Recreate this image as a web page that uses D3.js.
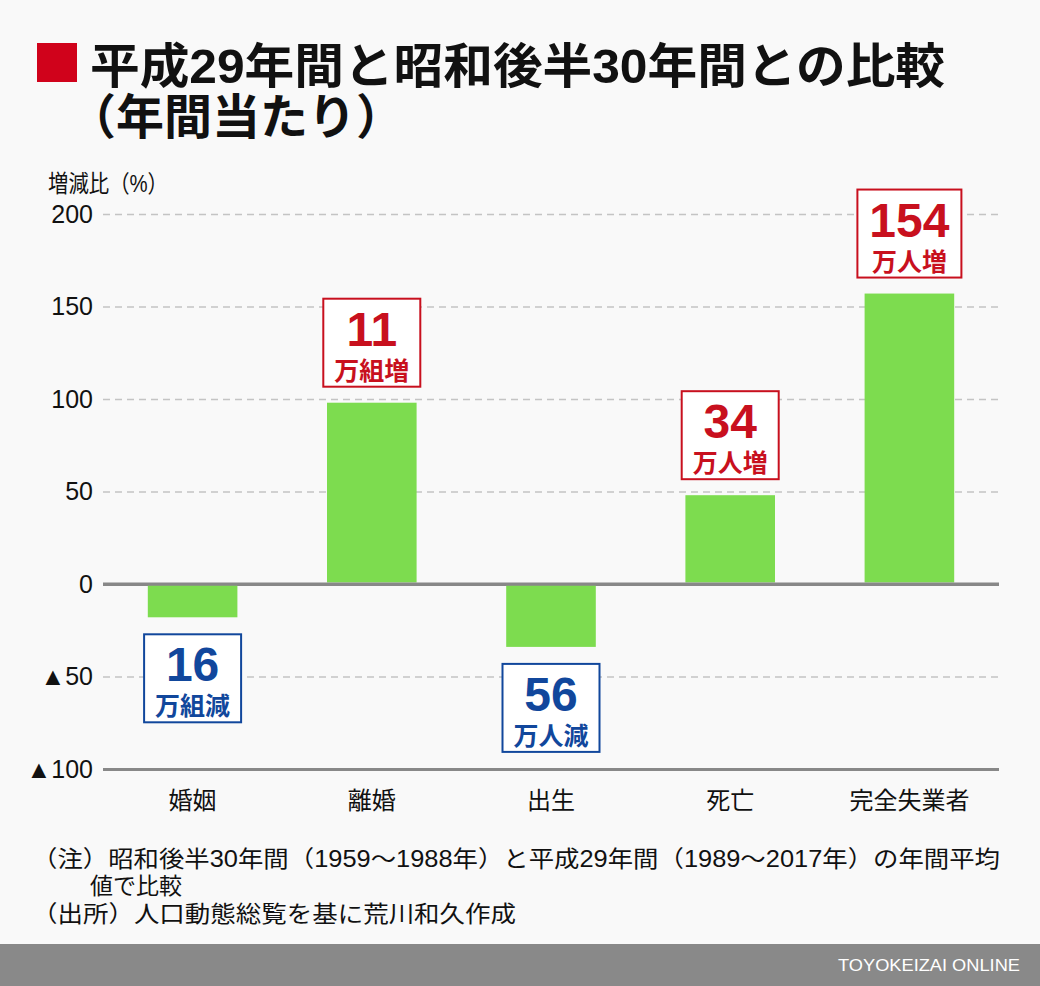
<!DOCTYPE html>
<html><head><meta charset="utf-8">
<script src="https://cdn.jsdelivr.net/npm/d3@7"></script>
<style>
html,body{margin:0;padding:0;background:#f9f9f9;}
svg{display:block;}
text{font-family:"Liberation Sans","Noto Sans CJK JP",sans-serif;}
</style></head>
<body>
<script>
const categories = ["婚姻","離婚","出生","死亡","完全失業者"];
const values = [-18, 98, -34, 48, 157];
const boxNumbers = ["16","11","56","34","154"];
const boxUnits = ["万組減","万組増","万人減","万人増","万人増"];
const tickValues = [-100,-50,0,50,100,150,200];
const tickLabels = ["▲100","▲50","0","50","100","150","200"];

const W=1040,H=986;
const svg=d3.select("body").append("svg").attr("width",W).attr("height",H);
svg.append("rect").attr("width",W).attr("height",H).attr("fill","#f9f9f9");

// title
svg.append("rect").attr("x",37).attr("y",43).attr("width",40).attr("height",39).attr("fill","#d0021b");
svg.append("text").attr("x",90).attr("y",83).attr("font-size",48).attr("font-weight","bold")
  .attr("fill","#111").attr("textLength",855).attr("lengthAdjust","spacingAndGlyphs")
  .text("平成29年間と昭和後半30年間との比較");
svg.append("text").attr("x",68).attr("y",134).attr("font-size",48).attr("font-weight","bold")
  .attr("fill","#111").text("（年間当たり）");

const x=d3.scaleBand().domain(categories).range([103,999]).paddingInner(0.5).paddingOuter(0.25);
const y=d3.scaleLinear().domain([-100,200]).range([769,214]);

svg.append("text").attr("x",48).attr("y",192).attr("font-size",24).attr("fill","#111")
  .attr("textLength",120).attr("lengthAdjust","spacingAndGlyphs").text("増減比（%）");

// grid
const yAxis=d3.axisLeft(y).tickValues(tickValues).tickSize(-896).tickFormat(d=>tickLabels[tickValues.indexOf(d)]);
const g=svg.append("g").attr("transform","translate(103,0)").call(yAxis);
g.select(".domain").remove();
g.selectAll(".tick line")
  .attr("stroke",d=>(d===0||d===-100)?"#888":"#c4c4c4")
  .attr("stroke-width",d=>(d===0||d===-100)?3:1.5)
  .attr("stroke-dasharray",d=>(d===0||d===-100)?null:"7,5");
g.selectAll(".tick text").attr("x",-10).attr("font-size",25).attr("fill","#111")
  .attr("font-family","\"Liberation Sans\",\"Noto Sans CJK JP\",sans-serif");

// bars
svg.append("g").selectAll("rect").data(values).join("rect")
  .attr("x",(d,i)=>x(categories[i])).attr("width",x.bandwidth())
  .attr("y",d=>d>=0?y(d):y(0)+1.5).attr("height",d=>d>=0?y(0)-1.5-y(d):y(d)-y(0)-1.5)
  .attr("fill","#7ddc4f");

svg.append("line").attr("x1",103).attr("x2",999).attr("y1",y(0)).attr("y2",y(0)).attr("stroke","#888").attr("stroke-width",3);

// category labels
svg.append("g").selectAll("text").data(categories).join("text")
  .attr("x",d=>x(d)+x.bandwidth()/2).attr("y",809).attr("text-anchor","middle")
  .attr("font-size",24).attr("fill","#111").text(d=>d);

// label boxes
const bh=88;
const boxes=svg.append("g").selectAll("g").data(values).join("g")
  .attr("transform",(d,i)=>{
    const cx=x(categories[i])+x.bandwidth()/2;
    const top=d>=0?y(d)-16-bh:y(d)+17;
    return `translate(${cx},${top})`;
  });
boxes.append("rect")
  .attr("x",(d,i)=>-(boxNumbers[i].length>2?104:97)/2).attr("y",0)
  .attr("width",(d,i)=>boxNumbers[i].length>2?104:97).attr("height",bh)
  .attr("fill","#fff").attr("stroke",d=>d>=0?"#c8101e":"#11479c").attr("stroke-width",2);
boxes.append("text").attr("x",0).attr("y",47).attr("text-anchor","middle")
  .attr("font-size",48).attr("font-weight","bold").attr("fill",d=>d>=0?"#c8101e":"#11479c")
  .text((d,i)=>boxNumbers[i]);
boxes.append("text").attr("x",0).attr("y",81).attr("text-anchor","middle")
  .attr("font-size",25).attr("font-weight","bold").attr("fill",d=>d>=0?"#c8101e":"#11479c")
  .text((d,i)=>boxUnits[i]);

// notes
svg.append("text").attr("x",32).attr("y",867).attr("font-size",23).attr("fill","#111")
  .attr("textLength",968).attr("lengthAdjust","spacingAndGlyphs")
  .text("（注）昭和後半30年間（1959〜1988年）と平成29年間（1989〜2017年）の年間平均");
svg.append("text").attr("x",90).attr("y",894).attr("font-size",23).attr("fill","#111").text("値で比較");
svg.append("text").attr("x",32).attr("y",922).attr("font-size",23).attr("fill","#111")
  .attr("textLength",484).attr("lengthAdjust","spacingAndGlyphs")
  .text("（出所）人口動態総覧を基に荒川和久作成");

// footer
svg.append("rect").attr("x",0).attr("y",944).attr("width",W).attr("height",42).attr("fill","#898989");
svg.append("text").attr("x",1020).attr("y",971).attr("text-anchor","end").attr("font-size",17)
  .attr("fill","#fff").attr("textLength",182).attr("lengthAdjust","spacingAndGlyphs").text("TOYOKEIZAI ONLINE");
</script>
</body></html>
